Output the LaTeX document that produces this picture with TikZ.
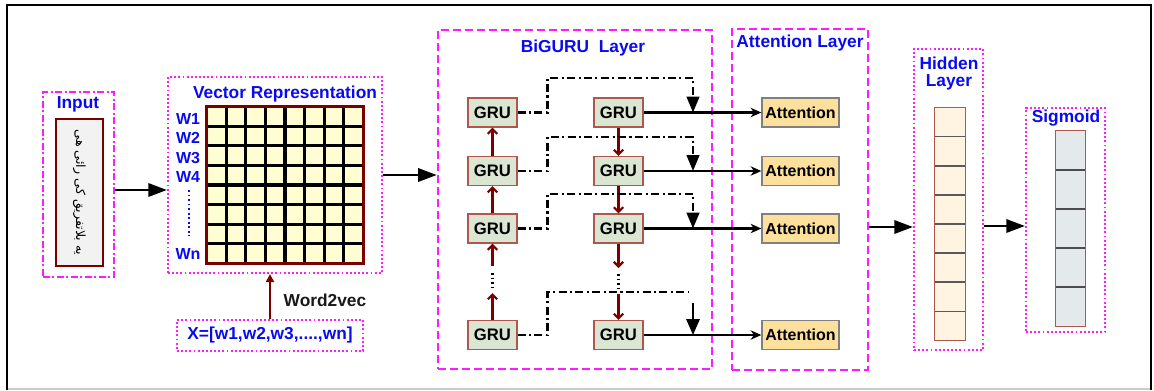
\documentclass[tikz,border=0pt]{standalone}
\usepackage{fontspec}
\setmainfont{Liberation Sans}
\newfontfamily\urdufont[Script=Arabic]{DejaVu Sans}
\TeXXeTstate=1
\usetikzlibrary{arrows.meta,calc}
\definecolor{mag}{HTML}{FF1AFF}
\definecolor{lblue}{HTML}{0A0AF0}
\definecolor{dred}{HTML}{7A0000}
\definecolor{grufill}{HTML}{DAE6D2}
\definecolor{gruline}{HTML}{B0564C}
\definecolor{attfill}{HTML}{FCE09C}
\definecolor{gridfill}{HTML}{FFFDD2}
\definecolor{hidfill}{HTML}{FFF4E2}
\definecolor{sigfill}{HTML}{E4EAEC}
\begin{document}
\begin{tikzpicture}[x=0.75pt,y=-0.75pt,
  magdash/.style={draw=mag, line width=1.9pt, dash pattern=on 6pt off 3pt, inner sep=0pt},
  magdashdot/.style={draw=mag, line width=1.9pt, dash pattern=on 5pt off 2pt on 1.5pt off 2pt, inner sep=0pt},
  magdot/.style={draw=mag, line width=1.6pt, dash pattern=on 1.4pt off 1.7pt, inner sep=0pt},
  lbl/.style={text=lblue, font=\bfseries\fontsize{13}{13}\selectfont, inner sep=0pt},
  wlbl/.style={text=lblue, font=\bfseries\fontsize{12}{12}\selectfont, inner sep=0pt},
  grubox/.style={draw=gruline, fill=grufill, line width=1pt, minimum width=36.75pt, minimum height=21.75pt, inner sep=0pt, font=\bfseries\fontsize{12.5}{12.5}\selectfont},
  attbox/.style={draw=black!50, fill=attfill, line width=1pt, minimum width=57.75pt, minimum height=21.75pt, inner sep=0pt, font=\bfseries\fontsize{12}{12}\selectfont},
  bigarr/.style={line width=1.8pt, -{Triangle[length=14pt,width=10pt]}},
  outarr/.style={line width=1.6pt, -{Stealth[length=8pt,width=7pt,inset=2.5pt]}},
  redarr/.style={draw=dred, line width=1.6pt, -{Straight Barb[length=3.5pt,width=7pt]}},
  dd/.style={line width=1.9pt, dash pattern=on 6pt off 2.5pt on 1.6pt off 2.5pt},
  ddarr/.style={dd, -{Triangle[length=12pt,width=9.5pt]}},
  vdots/.style={line width=1.6pt, dash pattern=on 1.4pt off 2pt}
]
\useasboundingbox (0,0) rectangle (1154,390);
% outer frame
\draw[black!20, line width=0.8pt] (7,389) -- (1151,389);
\draw[line width=1.8pt] (7,390) -- (7,5) -- (1151,5) -- (1151,390);

% ---------- Input ----------
\node[magdashdot, minimum width=53.25pt, minimum height=138.75pt] (inbox) at (78.5,184.5) {};
\node[lbl] (inlbl) at (78,104) {Input};
\node[draw=dred, fill=black!5, line width=2.2pt, minimum width=35.25pt, minimum height=110.25pt, inner sep=0pt] (inimg) at (79.5,192.5) {};
\node[rotate=-90, font=\urdufont\fontsize{9.5}{10}\selectfont, inner sep=0pt] (urdu) at (inimg.center) {\beginR یه بلاتفریق کی رائی هی\endR};

% ---------- Vector representation ----------
\node[magdot, minimum width=160.5pt, minimum height=147pt] (vecbox) at (275,175) {};
\node[lbl] (veclbl) at (285,94) {Vector Representation};
\node[fill=gridfill, minimum size=117pt, inner sep=0pt] (grid) at (285,185) {};
\foreach \i in {1,...,7}{
  \draw[line width=2.3pt] ($(grid.north west)!\i/8!(grid.north east)$) -- ($(grid.south west)!\i/8!(grid.south east)$);
  \draw[line width=2.3pt] ($(grid.north west)!\i/8!(grid.south west)$) -- ($(grid.north east)!\i/8!(grid.south east)$);
}
\draw[draw=dred, line width=2.2pt] (grid.north west) rectangle (grid.south east);
\node[wlbl] (w1) at (188,119) {W1};
\node[wlbl] (w2) at (188,138) {W2};
\node[wlbl] (w3) at (188,158) {W3};
\node[wlbl] (w4) at (188,177) {W4};
\node[wlbl] (wn) at (188,254) {Wn};
\coordinate (wd1) at (189,190);
\coordinate (wd2) at (189,236);
\draw[draw=lblue, vdots] (wd1) -- (wd2);

% ---------- X / Word2vec ----------
\node[magdot, minimum width=139.5pt, minimum height=23.25pt] (xbox) at (270,335.5) {};
\node[lbl] (xtext) at (xbox.center) {X=[w1,w2,w3,....,wn]};
\draw[draw=dred, line width=2pt, -{Triangle[length=6pt,width=6pt]}] (xbox.north) -- (xbox.north |- vecbox.south);
\node[font=\bfseries\fontsize{13}{13}\selectfont, text=black!90, inner sep=0pt] (w2v) at (325,300) {Word2vec};

% arrows between blocks
\coordinate (inarr) at (0,190);
\draw[bigarr] (inbox.east |- inarr) -- (vecbox.west |- inarr);

% ---------- BiGRU ----------
\node[magdash, minimum width=205.5pt, minimum height=254.25pt] (bigru) at (575,199.5) {};
\node[lbl] (bglbl) at (583,48) {BiGURU\ \ Layer};
\draw[bigarr] (vecbox.east) -- (vecbox.east -| bigru.west);

\node[grubox] (L1) at (492.5,112.5) {GRU};
\node[grubox] (L2) at (492.5,171) {GRU};
\node[grubox] (L3) at (492.5,228.5) {GRU};
\node[grubox] (L4) at (492.5,335) {GRU};
\node[grubox] (R1) at (618.5,112.5) {GRU};
\node[grubox] (R2) at (618.5,171) {GRU};
\node[grubox] (R3) at (618.5,228.5) {GRU};
\node[grubox] (R4) at (618.5,335) {GRU};

% ---------- Attention ----------
\node[magdash, minimum width=102pt, minimum height=255.75pt] (attlayer) at (800,199.5) {};
\node[lbl] (attlbl) at (800,43) {Attention Layer};
\node[attbox] (A1) at (800.5,112.5) {Attention};
\node[attbox] (A2) at (800.5,171) {Attention};
\node[attbox] (A3) at (800.5,228.5) {Attention};
\node[attbox] (A4) at (800.5,335) {Attention};

\draw[outarr] (R1.east) -- (A1.west);
\draw[outarr] (R2.east) -- (A2.west);
\draw[outarr] (R3.east) -- (A3.west);
\draw[outarr] (R4.east) -- (A4.west);

% left column (upward)
\draw[redarr] (L2.north) -- (L1.south);
\draw[redarr] (L3.north) -- (L2.south);
\coordinate (la) at (492.5,266);
\coordinate (lb) at (492.5,273);
\coordinate (lc) at (492.5,288);
\coordinate (ld) at (492.5,293);
\draw[redarr] (la) -- (L3.south);
\draw[vdots] (lb) -- (lc);
\draw[redarr] (L4.north) -- (ld);

% right column (downward)
\draw[redarr] (R1.south) -- (R2.north);
\draw[redarr] (R2.south) -- (R3.north);
\coordinate (ra) at (618.5,268);
\coordinate (rb) at (618.5,274);
\coordinate (rc) at (618.5,289);
\coordinate (rd) at (618.5,294);
\draw[redarr] (R3.south) -- (ra);
\draw[vdots] (rb) -- (rc);
\draw[redarr] (rd) -- (R4.north);

% dash-dot skip connections
\coordinate (j1) at (693,112.5);
\coordinate (j2) at (693,171);
\coordinate (j3) at (693,228.5);
\coordinate (j4) at (693,335);
\coordinate (s4) at (693,303);
\coordinate (e4) at (688,292);
\draw[ddarr] (L1.east) -- ++(30,0) -- ++(0,-34.5) -| (j1);
\draw[ddarr] (L2.east) -- ++(30,0) -- ++(0,-34) -| (j2);
\draw[ddarr] (L3.east) -- ++(30,0) -- ++(0,-34.5) -| (j3);
\draw[dd] (L4.east) -- ++(30,0) |- (e4);
\draw[line width=1.6pt, -{Triangle[length=12pt,width=10pt]}] (s4) -- (j4);

% ---------- Hidden ----------
\node[magdot, minimum width=51.75pt, minimum height=225.75pt] (hidbox) at (948.5,199.5) {};
\node[lbl, align=center, font=\bfseries\fontsize{13}{12.5}\selectfont] (hidlbl) at (949,73.5) {Hidden\\Layer};
\node[fill=hidfill, minimum width=22.5pt, minimum height=174pt, inner sep=0pt] (hcol) at (950,224) {};
\foreach \i in {1,...,7}{
  \draw[black!65, line width=1pt] ($(hcol.north west)!\i/8!(hcol.south west)$) -- ($(hcol.north east)!\i/8!(hcol.south east)$);
}
\draw[draw=gruline, line width=1pt] (hcol.north west) rectangle (hcol.south east);

\coordinate (harr) at (0,227);
\draw[bigarr] (attlayer.east |- harr) -- (hidbox.west |- harr);

% ---------- Sigmoid ----------
\node[magdot, minimum width=59.25pt, minimum height=168pt] (sigbox) at (1065.5,220) {};
\node[lbl] (siglbl) at (1066,118) {Sigmoid};
\node[fill=sigfill, minimum width=21.75pt, minimum height=146.25pt, inner sep=0pt] (scol) at (1070.5,228.5) {};
\foreach \i in {1,...,4}{
  \draw[black!70, line width=1pt] ($(scol.north west)!\i/5!(scol.south west)$) -- ($(scol.north east)!\i/5!(scol.south east)$);
}
\draw[draw=gruline, line width=1pt] (scol.north west) rectangle (scol.south east);

\coordinate (sarr) at (0,226);
\draw[bigarr] (hidbox.east |- sarr) -- (sigbox.west |- sarr);
\end{tikzpicture}
\end{document}
